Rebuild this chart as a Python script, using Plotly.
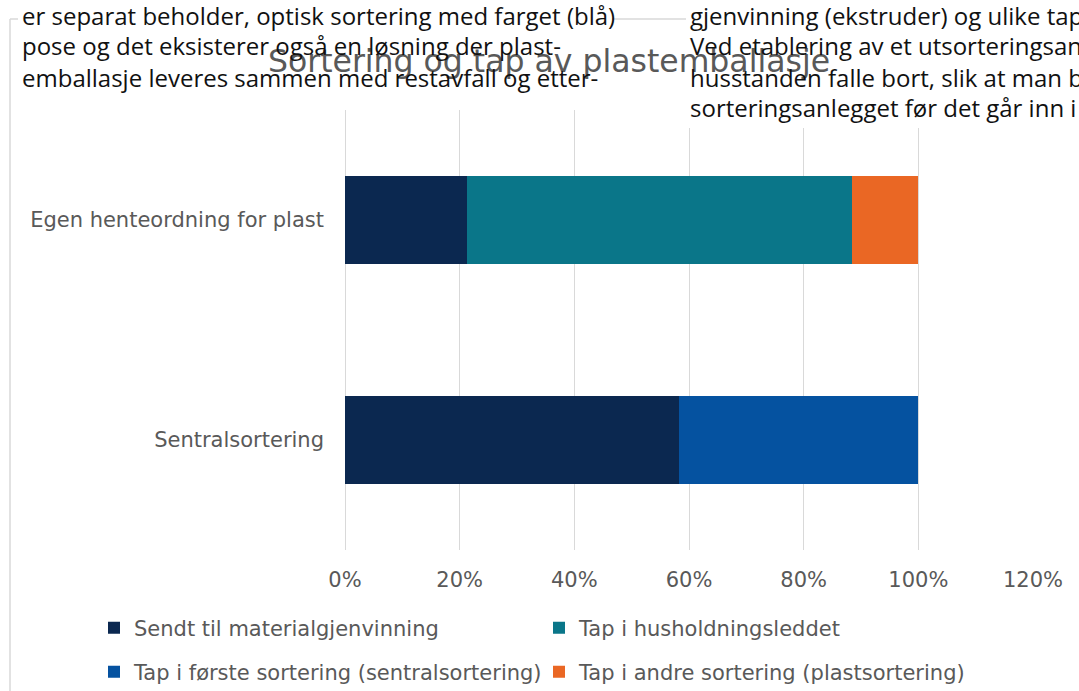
import plotly.graph_objects as go

# Categories (top to bottom) and share of plastic packaging per fate
categories = ["Egen henteordning for plast", "Sentralsortering"]
sendt_til_materialgjenvinning = [0.213, 0.583]
tap_i_husholdningsleddet = [0.671, 0.0]
tap_i_forste_sortering = [0.0, 0.417]
tap_i_andre_sortering = [0.116, 0.0]

series_names = [
    "Sendt til materialgjenvinning",
    "Tap i husholdningsleddet",
    "Tap i første sortering (sentralsortering)",
    "Tap i andre sortering (plastsortering)",
]
series_values = [
    sendt_til_materialgjenvinning,
    tap_i_husholdningsleddet,
    tap_i_forste_sortering,
    tap_i_andre_sortering,
]
series_colors = ["#0b2850", "#0a7689", "#0552a0", "#ea6724"]

x_ticks = [0, 0.2, 0.4, 0.6, 0.8, 1.0, 1.2]

# Surrounding report text
left_lines = [
    "er separat beholder, optisk sortering med farget (blå)",
    "pose og det eksisterer også en løsning der plast-",
    "emballasje leveres sammen med restavfall og etter-",
]
right_lines = [
    "gjenvinning (ekstruder) og ulike tap",
    "Ved etablering av et utsorteringsan",
    "husstanden falle bort, slik at man ba",
    "sorteringsanlegget før det går inn i",
]

W, H = 1079, 691
L, R, T, B = 345, 46, 110, 141
GRAY = "#595959"
CHART_FONT = "DejaVu Sans"
TEXT_FONT = "Open Sans"


def px_x(px):
    return (px - L) / (W - L - R)


def px_y(py):
    return (H - B - py) / (H - T - B)


# Legend laid out as a 2x2 grid: one legend box per entry
legend_ids = ["legend", "legend2", "legend3", "legend4"]
legend_pos = [(94, 628), (539, 628), (94, 672), (539, 672)]

fig = go.Figure()
for name, vals, col, lg in zip(series_names, series_values, series_colors, legend_ids):
    fig.add_trace(go.Bar(
        y=categories, x=vals, name=name, orientation="h",
        marker=dict(color=col, line=dict(width=0)),
        legend=lg, showlegend=True,
    ))

shapes = [
    # chart frame
    dict(type="line", xref="paper", yref="paper", layer="above",
         x0=px_x(10), x1=px_x(10), y0=px_y(19), y1=px_y(H + 5),
         line=dict(color="#d9d9d9", width=1.5)),
    dict(type="line", xref="paper", yref="paper", layer="above",
         x0=px_x(10), x1=px_x(W + 5), y0=px_y(19), y1=px_y(19),
         line=dict(color="#d9d9d9", width=1.5)),
    # white blocks behind the report text columns
    dict(type="rect", xref="paper", yref="paper", layer="above",
         x0=px_x(18), x1=px_x(612), y0=px_y(0), y1=px_y(92),
         fillcolor="white", line=dict(width=0)),
    dict(type="rect", xref="paper", yref="paper", layer="above",
         x0=px_x(686), x1=px_x(W + 5), y0=px_y(0), y1=px_y(128),
         fillcolor="white", line=dict(width=0)),
]

annotations = []
for col_x, lines in ((20, left_lines), (688, right_lines)):
    for i, line in enumerate(lines):
        annotations.append(dict(
            text=line, xref="paper", yref="paper",
            x=px_x(col_x), y=px_y(15 + 31 * i),
            xanchor="left", yanchor="middle", showarrow=False,
            font=dict(family=TEXT_FONT, size=24, color="#111111"),
        ))

legend_layouts = {}
for lg, (lx, ly) in zip(legend_ids, legend_pos):
    legend_layouts[lg] = dict(
        orientation="h", xref="container", yref="container",
        x=lx / W, y=1 - ly / H, xanchor="left", yanchor="middle",
        font=dict(family=CHART_FONT, size=21, color=GRAY),
        bgcolor="rgba(0,0,0,0)", visible=True,
    )

fig.update_layout(
    width=W, height=H,
    margin=dict(l=L, r=R, t=T, b=B, pad=0),
    paper_bgcolor="white", plot_bgcolor="white",
    barmode="stack", bargap=0.6,
    showlegend=True,
    font=dict(family=CHART_FONT, size=21, color=GRAY),
    title=dict(
        text="Sortering og tap av plastemballasje",
        font=dict(family=CHART_FONT, size=31.5, color=GRAY),
        xref="container", yref="container",
        x=549 / W, y=1 - 61 / H, xanchor="center", yanchor="middle",
    ),
    xaxis=dict(
        range=[0, 1.2], tickvals=x_ticks, tickformat=".0%",
        showgrid=True, gridcolor="#d9d9d9", gridwidth=1,
        zeroline=True, zerolinecolor="#d9d9d9", zerolinewidth=1,
        showline=False, ticks="", ticklabelstandoff=15,
        tickfont=dict(size=21, color=GRAY),
    ),
    yaxis=dict(
        autorange="reversed", showgrid=False, showline=False, ticks="",
        ticklabelstandoff=20, tickfont=dict(size=21, color=GRAY),
    ),
    shapes=shapes,
    annotations=annotations,
    **legend_layouts,
)

fig.write_html("out.html")
